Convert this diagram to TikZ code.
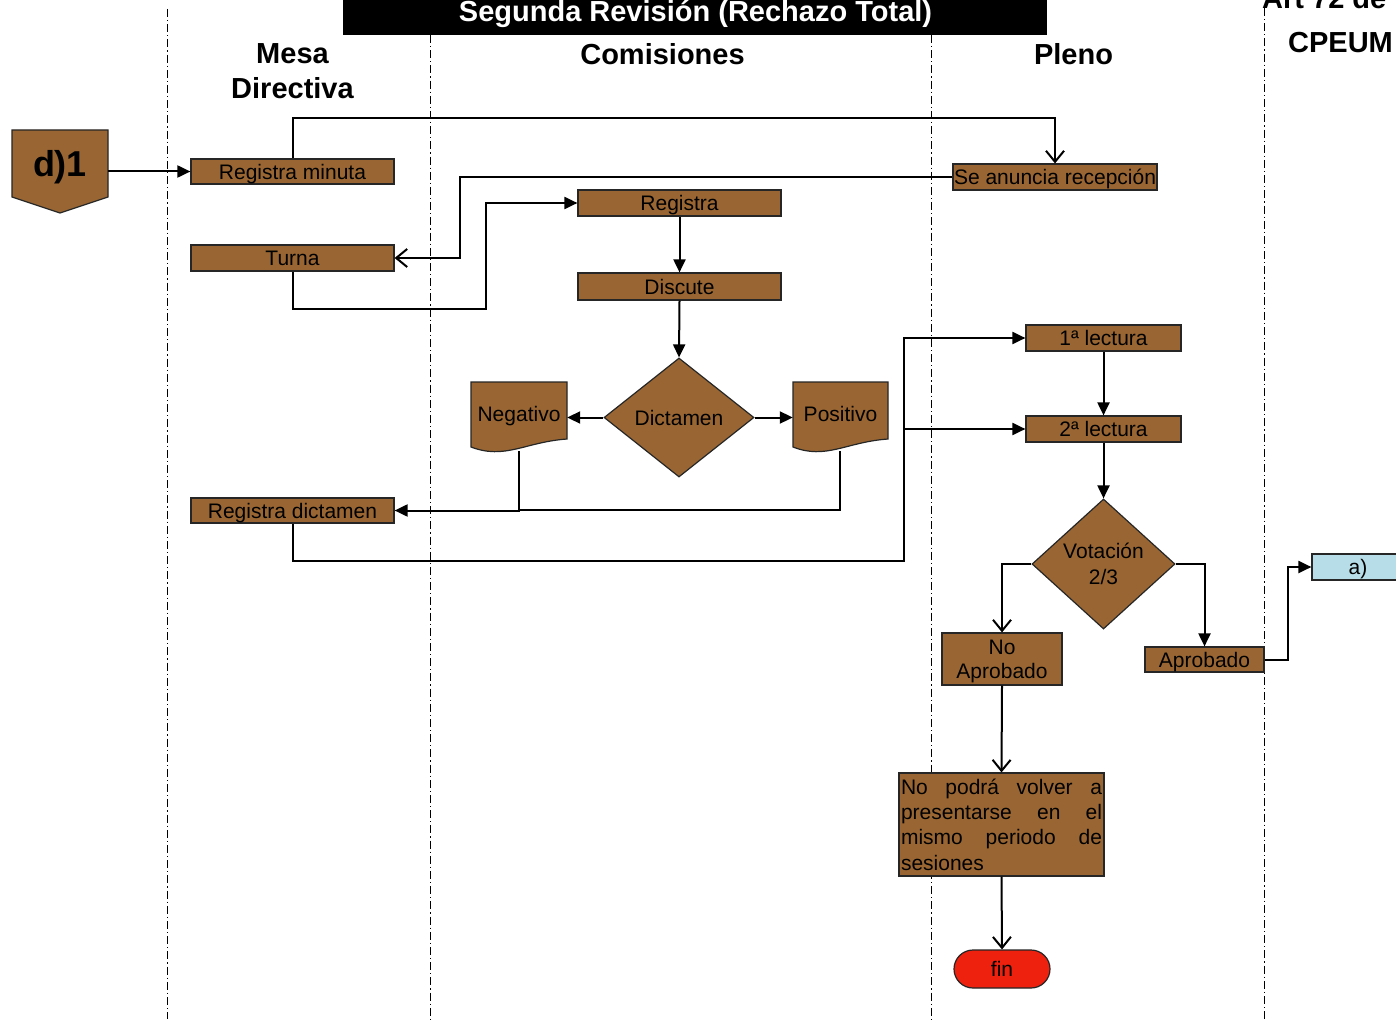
\documentclass[tikz,border=0pt]{standalone}
\usepackage{fontspec}
\setmainfont{Liberation Sans}
\usetikzlibrary{arrows.meta,shapes.geometric}
\definecolor{brownbox}{RGB}{153,102,51}
\definecolor{cyanbox}{RGB}{183,222,232}
\definecolor{finred}{RGB}{238,32,14}
\pgfdeclarelayer{paper}
\pgfdeclarelayer{bg}
\pgfsetlayers{paper,bg,main}

\begin{document}
\begin{tikzpicture}[x=1pt,y=-1pt,
  box/.style={draw=black!85, line width=1.2pt, fill=brownbox, inner sep=0pt,
    font=\fontsize{21}{24}\selectfont, text height=15pt, text depth=0pt},
  multi/.style={text height=, text depth=},
  doclabel/.style={inner sep=0pt, font=\fontsize{21}{24}\selectfont,
    text height=15pt, text depth=0pt},
  hdr/.style={font=\fontsize{29}{35}\selectfont\bfseries, align=center, inner sep=0pt},
  lane/.style={line width=0.9pt, dash pattern=on 8pt off 3pt on 1.2pt off 3pt},
  ln/.style={line width=2pt},
  arr/.style={ln, -{Triangle[length=13pt,width=12pt]}},
  arro/.style={ln, -{Straight Barb[length=11pt,width=18pt]}}]

\useasboundingbox (0,0) rectangle (1396,1019);
\begin{pgfonlayer}{paper}
  \fill[white] (0,0) rectangle (1396,1019);
\end{pgfonlayer}

% swimlane separators
\draw[lane] (167,9) -- (167,1019);
\draw[lane] (430,35) -- (430,1019);
\draw[lane] (931,35) -- (931,1019);
\draw[lane] (1264,8) -- (1264,1019);

% title bar and lane headings
\fill[black] (343,-5) rectangle (1047,35);
\node[hdr, text=white, anchor=base] (title) at (695.5,22) {Segunda Revisión (Rechazo Total)};
\node[hdr] (hmesa) at (292.5,71.5) {Mesa\\Directiva};
\node[hdr] (hcom) at (662.5,54) {Comisiones};
\node[hdr] (hpleno) at (1073.5,54) {Pleno};
\node[hdr, anchor=base west] (hart) at (1262,9) {Art 72 de};
\node[hdr] (hcpeum) at (1340.5,43) {CPEUM};

% off-page connector
\draw[draw=black!85, line width=1.2pt, fill=brownbox]
  (12,130) -- (108,130) -- (108,197) -- (60,213) -- (12,197) -- cycle;
\node[minimum width=96pt, minimum height=67pt, inner sep=0pt,
  font=\fontsize{36}{40}\selectfont\bfseries] (d1) at (60,167) {d)1};

% process boxes
\node[box, minimum width=203pt, minimum height=25pt] (rm) at (292.5,171.5) {Registra minuta};
\node[box, minimum width=204pt, minimum height=26pt] (sar) at (1055,177) {Se anuncia recepción};
\node[box, minimum width=203pt, minimum height=26pt] (turna) at (292.5,258) {Turna};
\node[box, minimum width=203pt, minimum height=26pt] (reg) at (679.5,203) {Registra};
\node[box, minimum width=203pt, minimum height=27pt] (disc) at (679.5,286.5) {Discute};
\node[box, diamond, minimum width=150pt, minimum height=119pt] (dict) at (679,417.5) {Dictamen};
\node[box, minimum width=203pt, minimum height=25pt] (rd) at (292.5,510.5) {Registra dictamen};

% document shapes
\draw[draw=black!85, line width=1.2pt, fill=brownbox]
  (471,382) -- (567,382) -- (567,439) .. controls (525,442) and (505,460) .. (471,447) -- cycle;
\node[doclabel, minimum width=96pt, minimum height=64pt] (neg) at (519,414) {Negativo};
\draw[draw=black!85, line width=1.2pt, fill=brownbox]
  (793,382) -- (888,382) -- (888,439) .. controls (846,442) and (826,460) .. (793,447) -- cycle;
\node[doclabel, minimum width=95pt, minimum height=64pt] (pos) at (840.5,414) {Positivo};
\coordinate (negb) at (519,451);
\coordinate (posb) at (840,451);

% plenary
\node[box, minimum width=155pt, minimum height=26pt] (l1) at (1103.5,338) {1ª lectura};
\node[box, minimum width=155pt, minimum height=26pt] (l2) at (1103.5,429) {2ª lectura};
\node[box, multi, diamond, minimum width=143pt, minimum height=130pt, align=center,
  font=\fontsize{21}{26}\selectfont] (vot) at (1103.5,564) {Votación\\2/3};
\node[box, multi, text depth=0pt, minimum width=120pt, minimum height=52pt, align=center] (nap) at (1002,659) {No\\Aprobado};
\node[box, minimum width=119pt, minimum height=25pt] (apr) at (1204.5,659.5) {Aprobado};
\node[box, fill=cyanbox, minimum width=92pt, minimum height=26pt] (a) at (1358,567) {a)};
\node[box, multi, minimum width=205pt, minimum height=103pt, align=left, inner sep=1pt,
  font=\fontsize{21}{25.4}\selectfont] (np) at (1001.5,824.5)
  {\makebox[201pt][s]{No podrá volver a}\\
   \makebox[201pt][s]{presentarse en el}\\
   \makebox[201pt][s]{mismo periodo de}\\
   sesiones};
\node[box, fill=finred, rounded corners=19pt, minimum width=96pt, minimum height=38pt] (fin) at (1002,969) {fin};

% connectors
\draw[arr] (d1.east |- rm.west) -- (rm.west);
\draw[arro] (rm.north) -- (292.5,118) -| (sar.north);
\draw[arro] (sar.west) -- (460,177) |- (turna.east);
\draw[arr] (turna.south) -- (292.5,309) -- (486,309) |- (reg.west);
\draw[arr] (reg.south) -- (disc.north);
\draw[arr] (disc.south) -- (dict.north);
\draw[arr] (dict.west) -- (dict.west -| neg.east);
\draw[arr] (dict.east) -- (dict.east -| pos.west);
\begin{pgfonlayer}{bg}
  \draw[arr] (negb) |- (rd.east);
  \draw[ln] (posb) -- (840,510) -- (519,510);
\end{pgfonlayer}
\coordinate (j) at (904,561);
\draw[arr] (rd.south) |- (j) |- (l1.west);
\draw[arr] (j) |- (l2.west);
\draw[arr] (l1.south) -- (l2.north);
\draw[arr] (l2.south) -- (vot.north);
\draw[arro] (vot.west) -| (nap.north);
\draw[arr] (vot.east) -| (apr.north);
\draw[arr] (apr.east) -- (1288,659.5) |- (a.west);
\draw[arro] (nap.south) -- (np.north);
\draw[arro] (np.south) -- (fin.north);
\end{tikzpicture}
\end{document}
